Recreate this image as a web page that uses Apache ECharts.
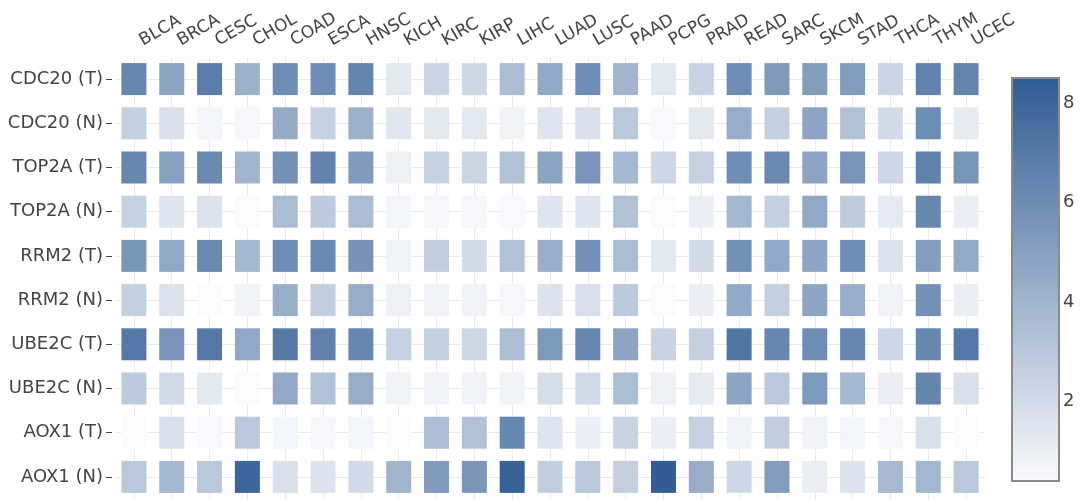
<!DOCTYPE html>
<html>
<head>
<meta charset="utf-8">
<script src="https://cdn.jsdelivr.net/npm/echarts@6/dist/echarts.min.js"></script>
<style>
  html, body { margin: 0; padding: 0; background: #fff; }
  #chart { width: 1084px; height: 503px; }
</style>
</head>
<body>
<div id="chart"></div>
<script>
const cancers = ['BLCA', 'BRCA', 'CESC', 'CHOL', 'COAD', 'ESCA', 'HNSC', 'KICH', 'KIRC', 'KIRP', 'LIHC', 'LUAD',
  'LUSC', 'PAAD', 'PCPG', 'PRAD', 'READ', 'SARC', 'SKCM', 'STAD', 'THCA', 'THYM', 'UCEC'];
const genes = ['CDC20 (T)', 'CDC20 (N)', 'TOP2A (T)', 'TOP2A (N)', 'RRM2 (T)', 'RRM2 (N)',
  'UBE2C (T)', 'UBE2C (N)', 'AOX1 (T)', 'AOX1 (N)'];

// one array per row, values in cancer order
const cdc20T = [6.3, 4.8, 6.8, 4.2, 6.0, 6.0, 6.4, 1.3, 2.3, 2.2, 3.6, 4.6, 6.0, 4.0, 1.3, 2.4, 6.0, 5.4, 5.2, 5.2, 2.3, 6.5, 6.4];
const cdc20N = [2.6, 1.8, 0.7, 0.6, 4.5, 2.5, 4.2, 1.4, 1.3, 1.3, 0.8, 1.5, 1.8, 3.0, 0.5, 1.3, 4.4, 2.6, 4.8, 3.3, 2.0, 6.0, 1.2];
const top2aT = [6.3, 5.0, 6.2, 4.0, 5.8, 6.5, 5.3, 0.9, 2.5, 2.3, 3.3, 4.8, 5.6, 3.8, 2.2, 2.5, 6.0, 6.2, 4.8, 5.6, 2.2, 6.6, 5.6];
const top2aN = [2.5, 1.5, 1.6, 0.4, 3.6, 2.9, 3.6, 0.7, 0.6, 0.6, 0.5, 1.5, 1.5, 3.3, 0.3, 1.0, 3.8, 2.6, 4.6, 2.8, 1.2, 6.3, 1.0];
const rrm2T = [5.5, 4.6, 6.2, 3.8, 6.0, 6.2, 5.7, 0.8, 2.7, 2.0, 3.3, 4.3, 5.8, 3.6, 1.3, 2.0, 5.8, 4.6, 4.8, 6.0, 1.6, 5.2, 4.5];
const rrm2N = [2.6, 1.6, 0.4, 0.8, 4.3, 2.7, 4.4, 0.9, 0.8, 0.8, 0.6, 1.6, 1.8, 2.9, 0.4, 1.0, 4.6, 2.6, 4.8, 4.3, 0.8, 5.8, 1.0];
const ube2cT = [7.0, 5.6, 7.0, 4.6, 7.0, 6.6, 6.3, 2.5, 2.6, 2.2, 3.5, 5.4, 6.3, 4.8, 2.4, 2.6, 7.2, 6.3, 6.0, 6.3, 2.2, 6.3, 7.0];
const ube2cN = [2.9, 2.0, 1.3, 0.4, 4.6, 3.3, 4.4, 0.8, 0.8, 0.8, 0.8, 1.9, 2.0, 3.5, 0.9, 1.2, 4.8, 3.0, 5.4, 3.8, 1.0, 6.4, 1.8];
const aox1T = [0.4, 1.8, 0.5, 3.0, 0.7, 0.6, 0.7, 0.4, 3.5, 3.3, 6.3, 1.5, 1.0, 2.4, 1.0, 2.5, 0.8, 2.7, 0.8, 0.7, 0.6, 1.8, 0.4];
const aox1N = [3.0, 3.8, 3.0, 8.0, 1.8, 1.6, 2.0, 4.0, 5.3, 5.5, 8.2, 2.7, 3.0, 2.6, 8.4, 4.4, 2.2, 5.2, 1.0, 1.6, 3.7, 3.9, 3.0];

const rows = [cdc20T, cdc20N, top2aT, top2aN, rrm2T, rrm2N, ube2cT, ube2cN, aox1T, aox1N];
const scaleMin = 0.4;
const scaleMax = 8.5;
const colorTicks = [2, 4, 6, 8];

const lowColor = '#fafbfd';
const highColor = '#2f5c93';
const textColor = '#444';
const font = 'DejaVu Sans';

const cells = [];
rows.forEach((values, r) => {
  values.forEach((v, c) => cells.push([c, r, v]));
});

const chart = echarts.init(document.getElementById('chart'));

chart.setOption({
  animation: false,
  textStyle: {fontFamily: font},
  grid: [
    {left: 115, top: 57, width: 870, height: 442},
    {
      left: 1012, top: 78, width: 47, height: 403,
      show: true,
      borderColor: '#8a8a8a',
      borderWidth: 2,
      backgroundColor: new echarts.graphic.LinearGradient(0, 0, 0, 1, [
        {offset: 0, color: highColor},
        {offset: 1, color: lowColor}
      ])
    }
  ],
  xAxis: [
    {
      type: 'category',
      data: cancers,
      position: 'top',
      axisLine: {show: false},
      axisTick: {show: false},
      axisLabel: {interval: 0, rotate: -30, margin: 11, padding: [0, 0, 0, 8], fontSize: 17, color: textColor},
      splitLine: {show: true, interval: 0, alignWithLabel: true, lineStyle: {color: '#ebebeb', width: 1}}
    },
    {gridIndex: 1, type: 'value', show: false, min: 0, max: 1}
  ],
  yAxis: [
    {
      type: 'category',
      data: genes,
      inverse: true,
      offset: 3,
      axisLine: {show: false},
      axisTick: {show: true, alignWithLabel: true, interval: 0, length: 6, lineStyle: {color: textColor}},
      axisLabel: {interval: 0, margin: 9, fontSize: 18, color: textColor},
      splitLine: {show: true, interval: 0, alignWithLabel: true, lineStyle: {color: '#ebebeb', width: 1}}
    },
    {
      gridIndex: 1,
      type: 'value',
      position: 'right',
      min: scaleMin,
      max: scaleMax,
      axisLine: {show: false},
      axisTick: {show: false},
      splitLine: {show: false},
      axisLabel: {customValues: colorTicks, margin: 4, fontSize: 18, color: textColor}
    }
  ],
  visualMap: {
    type: 'continuous',
    show: false,
    min: scaleMin,
    max: scaleMax,
    dimension: 2,
    seriesIndex: 0,
    inRange: {color: [lowColor, highColor]}
  },
  series: [
    {
      type: 'scatter',
      symbol: 'rect',
      symbolSize: [25, 32],
      data: cells,
      itemStyle: {opacity: 1}
    }
  ]
});
</script>
</body>
</html>
